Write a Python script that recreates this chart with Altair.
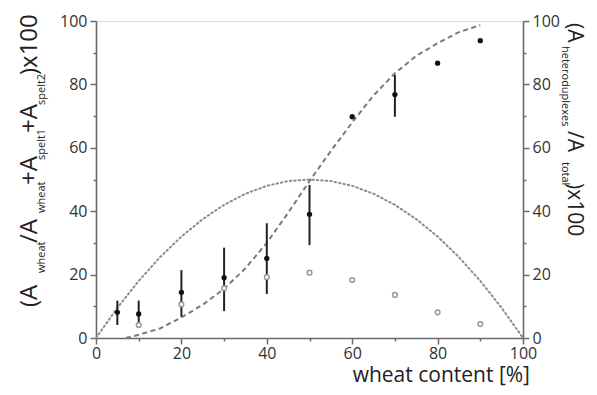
import altair as alt
import pandas as pd

# ---- data ----
pct = [5, 10, 20, 30, 40, 50, 60, 70, 80, 90]
mean_val = [8.1, 7.6, 14.4, 19.0, 25.1, 39.0, 69.8, 76.8, 86.7, 93.8]
err_low = [4.1, 4.2, 6.7, 8.5, 13.9, 29.3, 69.8, 69.8, 86.7, 93.8]
err_high = [11.8, 11.8, 21.4, 28.5, 36.2, 48.3, 69.8, 83.0, 86.7, 93.8]

het_pct = [10, 20, 30, 40, 50, 60, 70, 80, 90]
het_val = [4.1, 10.6, 15.7, 19.2, 20.6, 18.3, 13.6, 8.1, 4.4]

dash_x = [7, 10, 15, 20, 25, 30, 35, 40, 45, 50, 55, 60, 65, 70, 75, 80, 85, 90]
dash_y = [0, 1, 3, 6.5, 10.5, 15.5, 22, 30, 39.5, 49.5, 59, 68, 76.5, 83.5, 89, 93, 96.5, 98.7]

dot_x = [0, 5, 10, 15, 20, 25, 30, 35, 40, 45, 50, 55, 60, 65, 70, 75, 80, 85, 90, 95, 100]
dot_y = [0, 9.5, 18, 25.5, 32, 37.5, 42, 45.5, 48, 49.5, 50, 49.5, 48, 45.5, 42, 37.5, 32, 25.5, 18, 9.5, 0]

ticks = [0, 10, 20, 30, 40, 50, 60, 70, 80, 90, 100]

df_main = pd.DataFrame({"x": pct, "y": mean_val, "lo": err_low, "hi": err_high})
df_het = pd.DataFrame({"x": het_pct, "y": het_val})
df_dash = pd.DataFrame({"x": dash_x, "y": dash_y})
df_dot = pd.DataFrame({"x": dot_x, "y": dot_y})

AX = "#6a6a6a"
LAB = "#333333"
FONT = "Open Sans"

xs = alt.Scale(domain=[0, 100], nice=False, zero=False)
ys = alt.Scale(domain=[0, 100], nice=False, zero=False)

tick_size = {"condition": {"test": "datum.value % 20 === 0", "value": 6}, "value": 3}
label_expr = "datum.value % 20 === 0 ? datum.label : ''"


def make_axis(orient, pad=3):
    return alt.Axis(
        orient=orient, values=ticks, labelExpr=label_expr, tickSize=tick_size,
        title=None, grid=False, domainColor=AX, domainWidth=1.6, tickColor=AX,
        tickWidth=1.5, labelColor=LAB, labelFont=FONT, labelFontSize=16,
        labelPadding=pad, labelFlush=False, labelOverlap=False,
    )


xenc = alt.X("x:Q", scale=xs, axis=make_axis("bottom", pad=1))

dotted = alt.Chart(df_dot).mark_line(
    color="#8c8c8c", strokeWidth=2, strokeDash=[1.5, 3], strokeCap="round"
).encode(x=xenc, y=alt.Y("y:Q", scale=ys, axis=make_axis("left")))

dashed = alt.Chart(df_dash).mark_line(
    color="#7a7a7a", strokeWidth=2, strokeDash=[5, 3.5]
).encode(x=xenc, y=alt.Y("y:Q", scale=ys, axis=None))

rules = alt.Chart(df_main).mark_rule(color="#222222", strokeWidth=2).encode(
    x=xenc, y=alt.Y("lo:Q", scale=ys, axis=None), y2="hi:Q"
)

open_pts = alt.Chart(df_het).mark_point(
    shape="circle", size=22, fill="white", filled=False, stroke="#9a9a9a",
    strokeWidth=1.5, opacity=1
).encode(x=xenc, y=alt.Y("y:Q", scale=ys, axis=make_axis("right")))

filled_pts = alt.Chart(df_main).mark_circle(size=28, color="#111111", opacity=1).encode(
    x=xenc, y=alt.Y("y:Q", scale=ys, axis=None)
)


def txt(s, x, y, size, angle, align="left", color="#222222"):
    return alt.Chart(pd.DataFrame({"t": [s]})).mark_text(
        align=align, baseline="alphabetic", angle=angle, fontSize=size,
        font=FONT, color=color
    ).encode(text="t:N", x=alt.value(x), y=alt.value(y))


BIG = 24
SUB = 11
# left title, reading bottom to top
lx, lsx = -59, -51
left_parts = [
    txt("(A", lx, 286, BIG, 270),
    txt("wheat", lsx, 252, SUB, 270),
    txt("/A", lx, 222, BIG, 270),
    txt("wheat", lsx, 192, SUB, 270),
    txt("+A", lx, 164, BIG, 270),
    txt("spelt1", lsx, 139, SUB, 270),
    txt("+A", lx, 112, BIG, 270),
    txt("spelt2", lsx, 84, SUB, 270),
    txt(")x100", lx, 54, BIG, 270),
]
# right title, reading top to bottom
RBIG = 21
rx, rsx = 472, 466
right_parts = [
    txt("(A", rx, 2, RBIG, 90),
    txt("heteroduplexes", rsx, 25, SUB, 90),
    txt("/A", rx, 110, RBIG, 90),
    txt("total", rsx, 141, SUB, 90),
    txt(")x100", rx, 162, RBIG, 90),
]
xtitle = txt("wheat content [%]", 434, 361, 21, 0, align="right")

chart = alt.layer(
    dotted, dashed, rules, open_pts, filled_pts, *left_parts, *right_parts, xtitle
).resolve_axis(y="independent").properties(
    width=427, height=317,
    autosize=alt.AutoSizeParams(type="none"),
    padding={"left": 88, "top": 13, "right": 66, "bottom": 49},
).configure_view(stroke=AX, strokeWidth=1.6).configure(background="white")

chart.save("out.html", embed_options={"renderer": "svg", "actions": False})
